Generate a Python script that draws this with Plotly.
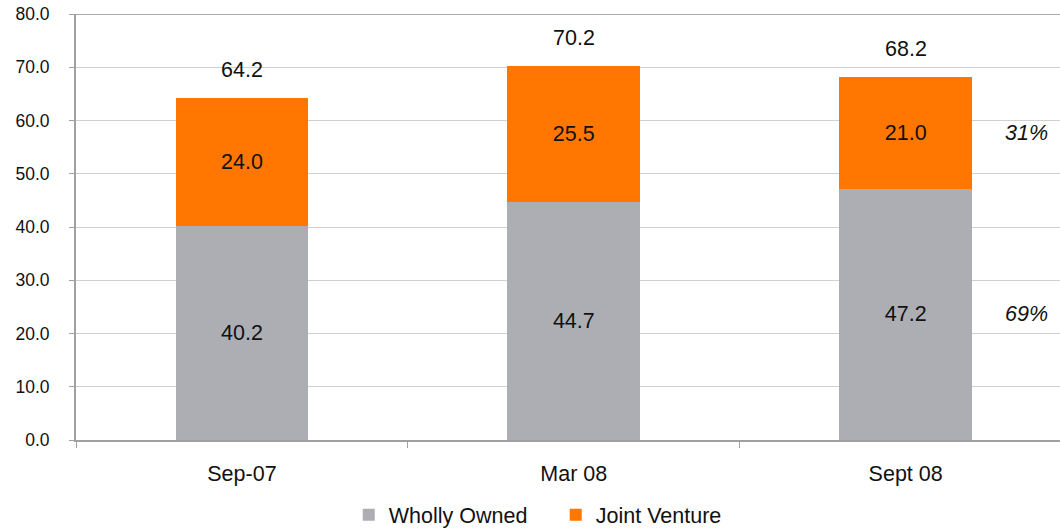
import plotly.graph_objects as go

# Portfolio split by period (values in the same units as the axis)
periods = ["Sep-07", "Mar 08", "Sept 08"]
wholly_owned = [40.2, 44.7, 47.2]
joint_venture = [24.0, 25.5, 21.0]
totals = [64.2, 70.2, 68.2]
y_ticks = [0, 10, 20, 30, 40, 50, 60, 70, 80]

GREY = "#ADAEB3"
ORANGE = "#FF7700"
FONT = "Liberation Sans, Arial, Helvetica, sans-serif"
TXT = 21.5

fig = go.Figure()
fig.add_trace(go.Bar(
    x=periods, y=wholly_owned, name="Wholly Owned",
    marker=dict(color=GREY, line=dict(width=0)),
    text=[f"{v:.1f}" for v in wholly_owned],
    textposition="inside", insidetextanchor="middle",
    textfont=dict(color="#111111", size=TXT, family=FONT),
    width=0.4,
))
fig.add_trace(go.Bar(
    x=periods, y=joint_venture, name="Joint Venture",
    marker=dict(color=ORANGE, line=dict(width=0)),
    text=[f"{v:.1f}" for v in joint_venture],
    textposition="inside", insidetextanchor="middle",
    textfont=dict(color="#111111", size=TXT, family=FONT),
    width=0.4,
))

# Totals above each stacked bar
for p, t in zip(periods, totals):
    fig.add_annotation(x=p, y=t, text=f"{t:.1f}", showarrow=False,
                       yshift=28, font=dict(size=TXT, color="#111111", family=FONT))

# Share of the latest period, beside the last bar
last = len(periods) - 1
jv_share = joint_venture[last] / totals[last] * 100
wo_share = wholly_owned[last] / totals[last] * 100
fig.add_annotation(x=2.365, y=wholly_owned[last] + joint_venture[last] / 2,
                   text=f"<i>{jv_share:.0f}%</i>", showarrow=False,
                   font=dict(size=TXT, color="#111111", family=FONT))
fig.add_annotation(x=2.365, y=wholly_owned[last] / 2,
                   text=f"<i>{wo_share:.0f}%</i>", showarrow=False,
                   font=dict(size=TXT, color="#111111", family=FONT))

# Darker top frame line at the axis maximum
fig.add_shape(type="line", xref="paper", yref="y", x0=0, x1=1, y0=80, y1=80,
              line=dict(color="#A8A8A8", width=2), layer="above")

fig.update_layout(
    barmode="stack",
    width=1060, height=528,
    margin=dict(l=76, r=0, t=14, b=88, autoexpand=False),
    paper_bgcolor="white", plot_bgcolor="white",
    font=dict(family=FONT, color="#111111"),
    showlegend=True,
    legend=dict(orientation="h", xref="container", x=0.329, xanchor="left",
                yref="container", y=0.064, yanchor="top",
                font=dict(size=TXT, family=FONT, color="#111111"),
                traceorder="normal", itemwidth=30,
                entrywidth=162, entrywidthmode="pixels"),
    xaxis=dict(range=[-0.5, 2.465], showline=True, linecolor="#A0A0A0", linewidth=2,
               ticks="outside", tickson="boundaries", ticklen=6, tickcolor="#A0A0A0",
               ticklabelstandoff=13,
               tickfont=dict(size=TXT, family=FONT, color="#111111"),
               showgrid=False, fixedrange=True),
    yaxis=dict(range=[0, 80], tickvals=y_ticks, tickformat=".1f",
               showline=True, linecolor="#A0A0A0", linewidth=2,
               ticks="outside", ticklen=5, tickcolor="#A0A0A0",
               ticklabelstandoff=16,
               showgrid=True, gridcolor="#D0D0D0", gridwidth=1,
               tickfont=dict(size=17.5, family=FONT, color="#111111"),
               zeroline=False, fixedrange=True),
)

fig.write_html("out.html")
